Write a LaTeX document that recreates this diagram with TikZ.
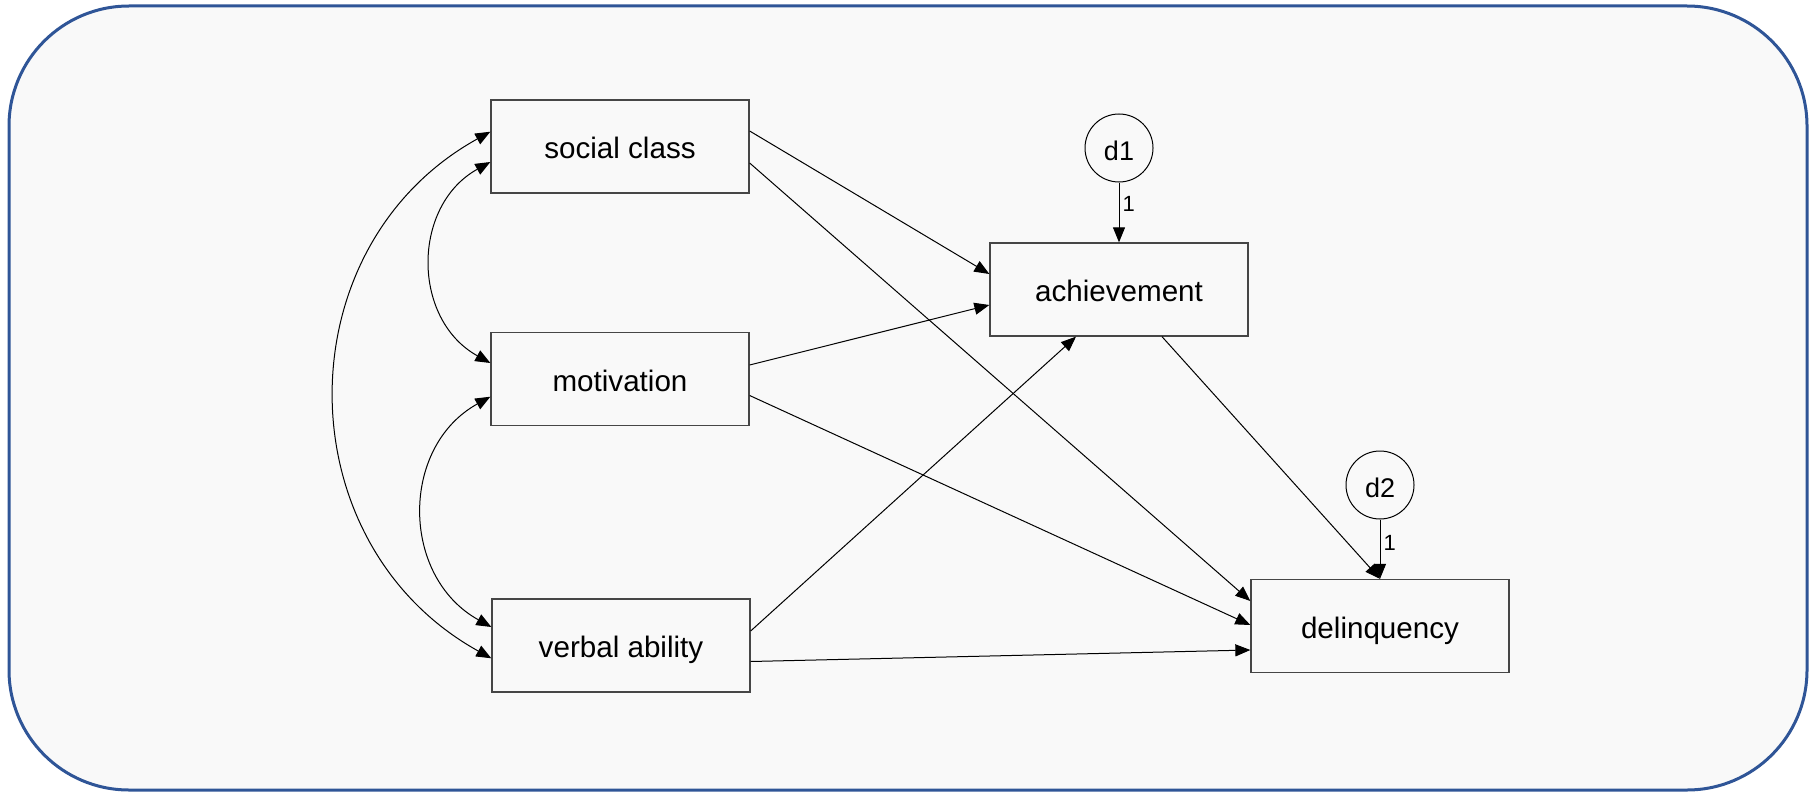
\documentclass[tikz,border=0pt]{standalone}
\usepackage{fontspec}
\setmainfont{Liberation Sans}
\usetikzlibrary{arrows.meta,calc}
\definecolor{framecol}{RGB}{47,85,151}
\definecolor{panelbg}{RGB}{249,249,249}
\definecolor{boxline}{RGB}{70,70,70}
\begin{document}
\begin{tikzpicture}[x=0.5pt,y=0.5pt,
  var/.style={draw=boxline, line width=0.65pt, fill=panelbg, minimum width=129pt,
    minimum height=46.5pt, inner sep=0pt, text height=12.2pt, text depth=0pt,
    font=\fontsize{14.8}{16}\selectfont},
  err/.style={circle, draw=black, line width=0.5pt, fill=panelbg, minimum size=34pt,
    inner sep=0pt, text height=12.8pt, text depth=0pt,
    font=\fontsize{13.5}{15}\selectfont},
  link/.style={draw=black, line width=0.5pt, -{Triangle[length=7.5pt,width=6pt]}},
  cov/.style={draw=black, line width=0.5pt,
    {Triangle[length=7.5pt,width=6pt]}-{Triangle[length=7.5pt,width=6pt]},
    out=209, in=151, looseness=1.15},
  wt/.style={font=\fontsize{11}{12}\selectfont, inner sep=1.5pt}]

% canvas and frame
\useasboundingbox (0,0) rectangle (1810,-792);
\draw[framecol, line width=1.5pt, fill=panelbg, rounded corners=60pt]
  (9,-6) rectangle (1807,-790);

% observed variables
\node[var] (sc)  at (620,-146.5)  {social class};
\node[var] (mo)  at (620,-379)    {motivation};
\node[var] (va)  at (621,-645.5)  {verbal ability};
\node[var] (ach) at (1119,-289.5) {achievement};
\node[var] (del) at (1380,-626)   {delinquency};

% disturbances
\node[err] (d1) at (1119,-148) {d1};
\node[err] (d2) at (1380,-485) {d2};

% covariances among exogenous variables
\draw[cov] ($(sc.west)+(0,-15.5)$) to ($(mo.west)+(0,16)$);
\draw[cov] ($(mo.west)+(0,-17.7)$) to ($(va.west)+(0,18.5)$);
\draw[cov] ($(sc.west)+(0,14.8)$)  to ($(va.west)+(0,-12.8)$);

% regression paths
\draw[link] ($(sc.east)+(0,15.5)$)  -- ($(ach.west)+(0,15.5)$);
\draw[link] ($(sc.east)+(0,-16.5)$) -- ($(del.west)+(0,25)$);
\draw[link] ($(mo.east)+(0,14)$)    -- ($(ach.west)+(0,-15.5)$);
\draw[link] ($(mo.east)+(0,-16.5)$) -- ($(del.west)+(0,1)$);
\draw[link] ($(va.east)+(0,14.5)$)  -- ($(ach.south)+(-43,0)$);
\draw[link] ($(va.east)+(0,-16)$)   -- ($(del.west)+(0,-24)$);
\draw[link] ($(ach.south)+(43,0)$)  -- (del.north);

% disturbance paths
\draw[link] (d1) -- (ach.north) node[wt, pos=0.36, right] {1};
\draw[link] (d2) -- (del.north) node[wt, pos=0.39, right] {1};
\end{tikzpicture}
\end{document}
